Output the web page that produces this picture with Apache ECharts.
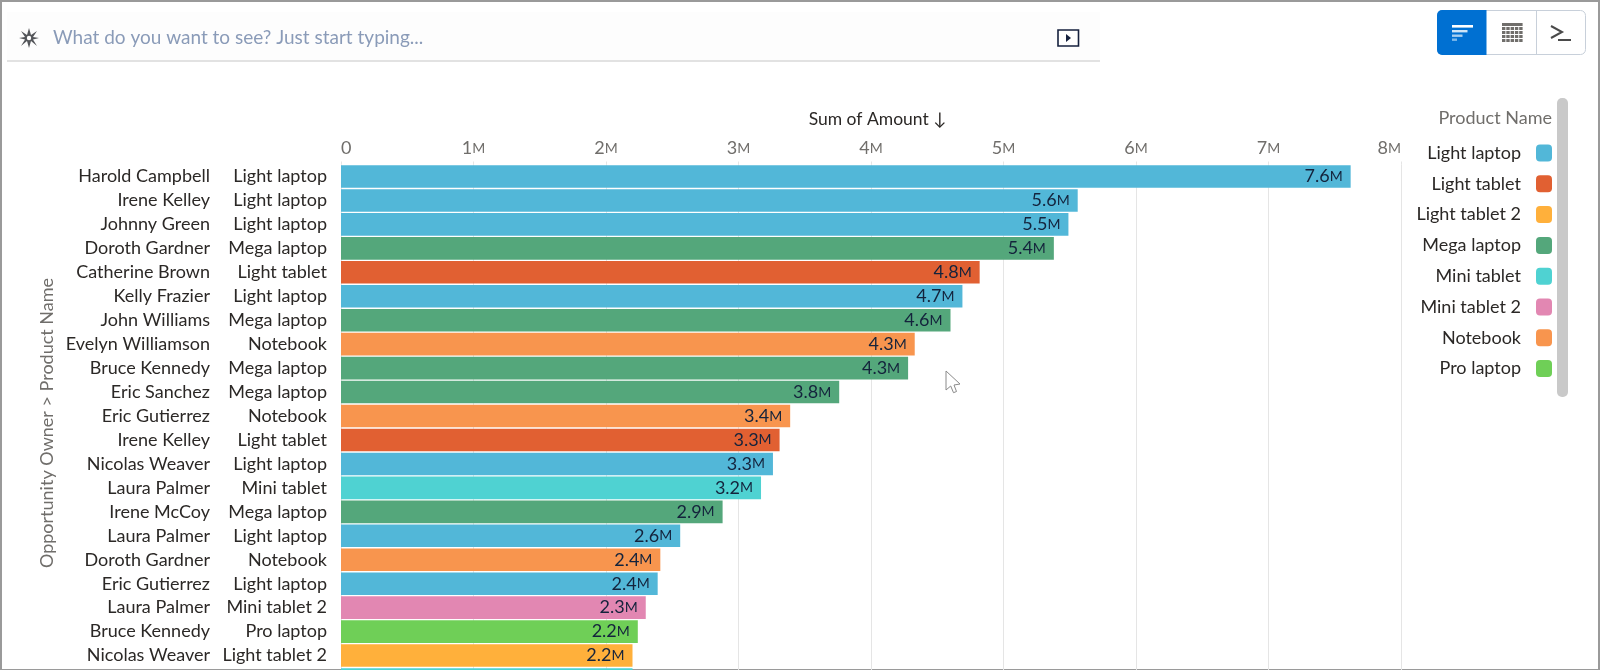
<!DOCTYPE html>
<html>
<head>
<meta charset="utf-8">
<title>Sum of Amount</title>
<style>
    html, body { margin: 0; padding: 0; background: #fff; overflow: hidden; }
    #chart { width: 1600px; height: 670px; }
</style>
<script src="https://cdn.jsdelivr.net/npm/echarts@6/dist/echarts.min.js"></script>
</head>
<body>
<div id="chart"></div>
<script>
var owners = ['Harold Campbell', 'Irene Kelley', 'Johnny Green', 'Doroth Gardner', 'Catherine Brown', 'Kelly Frazier',
    'John Williams', 'Evelyn Williamson', 'Bruce Kennedy', 'Eric Sanchez', 'Eric Gutierrez', 'Irene Kelley',
    'Nicolas Weaver', 'Laura Palmer', 'Irene McCoy', 'Laura Palmer', 'Doroth Gardner', 'Eric Gutierrez',
    'Laura Palmer', 'Bruce Kennedy', 'Nicolas Weaver', ''];
var rowProducts = ['Light laptop', 'Light laptop', 'Light laptop', 'Mega laptop', 'Light tablet', 'Light laptop',
    'Mega laptop', 'Notebook', 'Mega laptop', 'Mega laptop', 'Notebook', 'Light tablet',
    'Light laptop', 'Mini tablet', 'Mega laptop', 'Light laptop', 'Notebook', 'Light laptop',
    'Mini tablet 2', 'Pro laptop', 'Light tablet 2', 'Mini tablet'];
// millions, the last row is cut off by the window
var amounts = [7.62, 5.56, 5.49, 5.38, 4.82, 4.69, 4.6, 4.33, 4.28, 3.76, 3.39, 3.31,
    3.26, 3.17, 2.88, 2.56, 2.41, 2.39, 2.3, 2.24, 2.2, 2.2];
var products = ['Light laptop', 'Light tablet', 'Light tablet 2', 'Mega laptop', 'Mini tablet', 'Mini tablet 2', 'Notebook', 'Pro laptop'];
var productColors = ['#52b7d8', '#e16032', '#ffb03b', '#54a77b', '#4fd2d2', '#e287b2', '#f8954e', '#6fcf57'];
var xTicks = [0, 1, 2, 3, 4, 5, 6, 7, 8];

var FONT = 'Lato';
var INK = '#14233c';
var TEXT = '#2b2826';
var GREY = '#706e6b';

var myChart = echarts.init(document.getElementById('chart'), null, { renderer: 'canvas' });

var series = products.map(function (name, p) {
    return {
        name: name,
        type: 'bar',
        stack: 'amount',
        yAxisIndex: 0,
        barWidth: 22.6,
        itemStyle: { color: productColors[p] },
        label: {
            show: true,
            position: 'insideRight',
            distance: 8,
            formatter: function (params) {
                return '{n|' + params.value.toFixed(1) + '}{m|M}';
            },
            rich: {
                n: { fontFamily: FONT, fontSize: 18, color: INK },
                m: { fontFamily: FONT, fontSize: 14, color: INK }
            }
        },
        data: amounts.map(function (v, i) {
            return rowProducts[i] === name ? v : null;
        })
    };
});

function uiRect(x, y, w, h, fill, r) {
    return { type: 'rect', silent: true, shape: { x: x, y: y, width: w, height: h, r: r || 0 }, style: { fill: fill } };
}

function uiLine(x1, y1, x2, y2, color, width) {
    return { type: 'line', silent: true, shape: { x1: x1, y1: y1, x2: x2, y2: y2 }, style: { stroke: color, lineWidth: width } };
}

var chrome = [
    // search bar
    uiRect(7, 12, 1093, 48, '#fdfdfd'),
    uiRect(7, 60, 1093, 2, '#e2e2e2'),
    { type: 'polygon', silent: true, shape: { points: [[29, 28], [31, 35], [37, 31], [33, 37], [39, 38], [33, 39.5], [37, 46], [31, 41], [29, 48], [27, 41], [21, 46], [25, 39.5], [19, 38], [25, 37], [21, 31], [27, 35]] },
        style: { fill: '#54565a' } },
    { type: 'circle', silent: true, shape: { cx: 29, cy: 38, r: 2.2 }, style: { fill: '#fff' } },
    { type: 'text', silent: true, style: { x: 53, y: 38, text: 'What do you want to see? Just start typing...', font: '19px ' + FONT, fill: '#8a9bb8', verticalAlign: 'middle' } },
    { type: 'rect', silent: true, shape: { x: 1058, y: 30, width: 20.5, height: 16 }, style: { fill: '#fff', stroke: '#16213e', lineWidth: 1.6 } },
    { type: 'polygon', silent: true, shape: { points: [[1066, 34], [1066, 42], [1071, 38]] }, style: { fill: '#16213e' } },

    // view buttons
    { type: 'rect', silent: true, shape: { x: 1437.5, y: 10.5, width: 148, height: 44, r: 5 }, style: { fill: '#fff', stroke: '#c8d0da', lineWidth: 1 } },
    uiRect(1437, 10, 49.5, 45, '#0070d2', [5, 0, 0, 5]),
    uiLine(1536.5, 11, 1536.5, 54, '#c8d0da', 1),
    uiRect(1452, 25, 21, 2.6, '#ffffff'),
    uiRect(1452, 30, 15.5, 2.4, '#cfe5f7'),
    uiRect(1452, 34.5, 10.5, 2.4, '#a6cff0'),
    uiRect(1452, 38.5, 5, 2.4, '#7db9ea'),
    uiRect(1502, 23, 20.6, 3, '#706e6b'),
    { type: 'polyline', silent: true, shape: { points: [[1551, 26], [1562, 32], [1551, 38]] }, style: { stroke: '#4a4a4a', lineWidth: 2, fill: null } },
    uiRect(1558, 39, 13, 2, '#4a4a4a'),

    // legend heading and its scrollbar
    { type: 'text', silent: true, style: { x: 1552, y: 118, text: 'Product Name', font: '18px ' + FONT, fill: GREY, align: 'right', verticalAlign: 'middle' } },
    uiRect(1557, 98, 11, 299, '#c9c9c9', 5),

    // left axis title
    { type: 'text', silent: true, x: 47, y: 423, rotation: Math.PI / 2, style: { x: 0, y: 0, text: 'Opportunity Owner > Product Name', font: '18px ' + FONT, fill: GREY, align: 'center', verticalAlign: 'middle' } },

    // mouse pointer
    { type: 'polygon', silent: true, shape: { points: [[946, 371], [946, 390], [950.7, 386], [953.5, 392.7], [956.5, 391.5], [954, 385], [960, 384]] },
        style: { fill: '#fff', stroke: '#8a8a8a', lineWidth: 1 } },

    // screenshot frame
    uiRect(0, 0, 1600, 2, '#9a9a9a'),
    uiRect(0, 0, 2, 670, '#9a9a9a'),
    uiRect(1598, 0, 2, 670, '#9a9a9a'),
    uiRect(0, 669, 1600, 1, '#9a9a9a')
];

// table icon cells
for (var gr = 0; gr < 4; gr++) {
    for (var gc = 0; gc < 5; gc++) {
        chrome.push(uiRect(1502 + gc * 4.3, 27 + gr * 4, 3.4, 3, '#706e6b'));
    }
}

var option = {
    backgroundColor: '#fff',
    animation: false,
    textStyle: { fontFamily: FONT },
    grid: { left: 341, top: 164.5, width: 1060, height: 527, outerBoundsMode: 'none' },
    legend: {
        data: products,
        orient: 'vertical',
        align: 'right',
        right: 48,
        top: 144,
        padding: 0,
        itemWidth: 16,
        itemHeight: 17,
        itemGap: 12.8,
        icon: 'roundRect',
        selectedMode: false,
        textStyle: { fontFamily: FONT, fontSize: 18, color: TEXT, padding: [0, 10, 0, 0] }
    },
    xAxis: {
        type: 'value',
        position: 'top',
        min: xTicks[0],
        max: xTicks[xTicks.length - 1],
        interval: 1,
        name: 'Sum of Amount ↓',
        nameLocation: 'middle',
        nameGap: 36,
        nameTextStyle: { fontFamily: FONT, fontSize: 17.5, color: TEXT, padding: [0, 0, 0, 13] },
        axisLine: { show: false },
        axisTick: { show: true, length: 3, lineStyle: { color: '#e5e5e5' } },
        splitLine: { show: true, lineStyle: { color: '#e5e5e5', width: 1 } },
        axisLabel: {
            margin: 7,
            alignMinLabel: 'left',
            alignMaxLabel: 'right',
            formatter: function (v) {
                return v === 0 ? '{n|0}' : '{n|' + v + '}{m|M}';
            },
            rich: {
                n: { fontFamily: FONT, fontSize: 18, color: GREY },
                m: { fontFamily: FONT, fontSize: 14, color: GREY }
            }
        }
    },
    yAxis: [{
        type: 'category',
        position: 'left',
        inverse: true,
        data: rowProducts,
        axisLine: { show: false },
        axisTick: { show: false },
        axisLabel: { interval: 0, margin: 14, fontFamily: FONT, fontSize: 18, color: TEXT,
            formatter: function (v, i) { return i === rowProducts.length - 1 ? '' : v; } }
    }, {
        type: 'category',
        position: 'left',
        inverse: true,
        data: owners,
        axisLine: { show: false },
        axisTick: { show: false },
        axisLabel: { interval: 0, margin: 131, fontFamily: FONT, fontSize: 18, color: TEXT }
    }],
    series: series,
    graphic: { elements: chrome }
};

myChart.setOption(option);
</script>
</body>
</html>
